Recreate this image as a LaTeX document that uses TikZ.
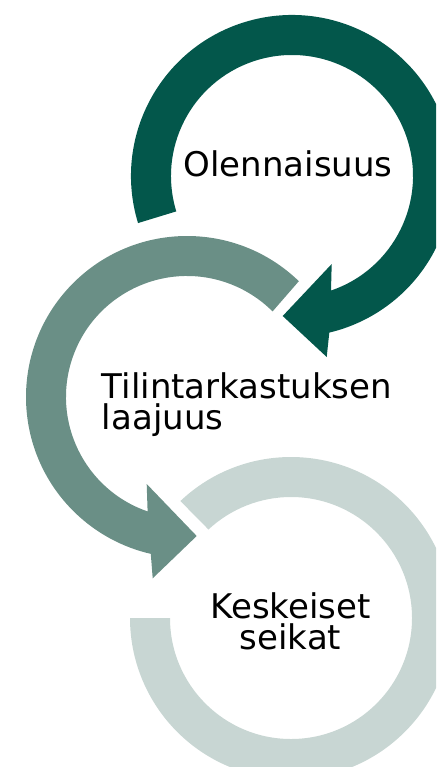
\documentclass[tikz,border=0pt]{standalone}
\usepackage{fontspec}
\setmainfont{DejaVu Sans}
\usepackage{tikz}
\usetikzlibrary{calc}
\definecolor{darkring}{HTML}{03574B}
\definecolor{midring}{HTML}{6A8F86}
\definecolor{lightring}{HTML}{C8D6D3}

\begin{document}
\begin{tikzpicture}[x=1pt, y=1pt,
			caption/.style={inner sep=0pt, text=black, font=\fontsize{34}{31}\selectfont},]
		\useasboundingbox (0,0) rectangle (436,-767);
		\clip (0,0) rectangle (436,-767);

		\coordinate (ctop) at (292,-176);
		\coordinate (cmid) at (187,-397);
		\coordinate (cbot) at (291,-618);

		\fill [darkring] (ctop) ++(197:161) arc [start angle=197, end angle=-76.6, radius=161]
			-- (326.7,-357) -- (282.7,-316) -- (331.7,-264)
			-- ($(ctop)+(-71.2:121)$) arc [start angle=-71.2, end angle=197, radius=121] -- cycle;

		\fill [midring] (cmid) ++(46:161) arc [start angle=46, end angle=257, radius=161]
			-- (152.7,-578.3) -- (196.7,-536) -- (146.7,-484)
			-- ($(cmid)+(251:121)$) arc [start angle=251, end angle=45, radius=121] -- cycle;

		\fill [lightring] (cbot) ++(133.4:161) arc [start angle=133.4, end angle=-180, radius=161]
			-- ($(cbot)+(180:121)$) arc [start angle=-180, end angle=133, radius=121] -- cycle;

		\node (olennaisuus) [caption, anchor=base] at (288,-176.7) {Olennaisuus};

		\node (laajuus) [caption, align=left, anchor=north west] at (101.7,-372) {Tilintarkastuksen\\laajuus};

		\node (seikat) [caption, align=center, anchor=north] at (290.5,-592) {Keskeiset\\seikat};
	\end{tikzpicture}
\end{document}
